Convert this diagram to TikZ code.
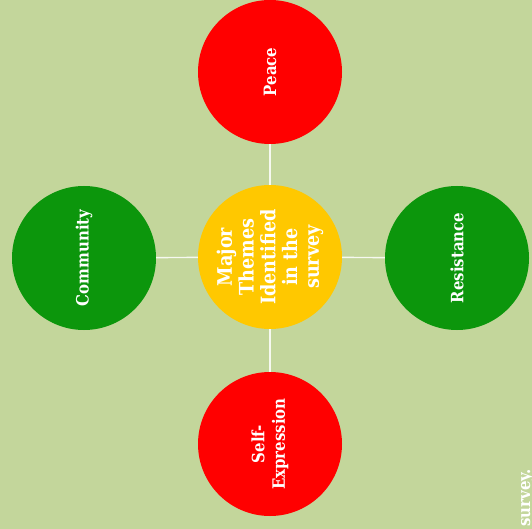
\documentclass[tikz,border=0pt]{standalone}
\usepackage{fontspec}
\setmainfont{DejaVu Serif}[FakeStretch=0.88]
\definecolor{bgolive}{HTML}{C3D69B}
\definecolor{themered}{HTML}{FF0000}
\definecolor{themegreen}{HTML}{0C960C}
\definecolor{themegold}{HTML}{FFC800}
\tikzstyle{theme}=[circle,minimum size=144pt,inner sep=0pt,text=white,font=\bfseries\fontsize{17}{20.5}\selectfont,align=center,rotate=90]
\tikzstyle{themer}=[theme,fill=themered]
\tikzstyle{themeg}=[theme,fill=themegreen]
\tikzstyle{themey}=[theme,fill=themegold,font=\bfseries\fontsize{20}{21.8}\selectfont]

\begin{document}
\begin{tikzpicture}[x=1pt,y=-1pt]
    \useasboundingbox (0,0) rectangle (532,529);
    \fill[bgolive] (0,0) rectangle (532,529);
    \node[themey] (core) at (270,257) {Major\\Themes\\Identified\\in the\\survey};
    \node[themer] (peace) at (270,72)  {Peace};
    \node[themeg] (comm) at (84,258)  {Community};
    \node[themeg] (resist) at (457,258) {Resistance};
    \node[themer] (self) at (270,444) {Self-\\Expression};
    \node[rotate=90,anchor=base east,inner sep=0pt,text=white,font=\bfseries\fontsize{17}{20.5}\selectfont] (note) at (530,469) {survey.};
    
    \foreach \to in {peace,comm,resist,self}
    \draw[white!85!bgolive,line width=1.4pt] (core) -- (\to);
\end{tikzpicture}
\end{document}
